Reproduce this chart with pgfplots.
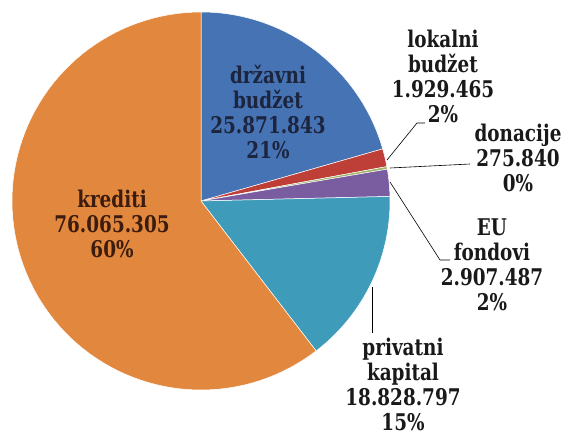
\documentclass[border=0pt]{standalone}
\usepackage{fontspec}
\setmainfont{DejaVu Serif}[FakeStretch=0.8]
\usepackage{pgfplots}
\pgfplotsset{compat=1.18}

\definecolor{cDrz}{RGB}{70,115,180}
\definecolor{cLok}{RGB}{190,62,56}
\definecolor{cDon}{RGB}{160,180,100}
\definecolor{cEU}{RGB}{122,92,160}
\definecolor{cPriv}{RGB}{62,155,185}
\definecolor{cKred}{RGB}{226,136,62}
\definecolor{txtBlue}{RGB}{28,36,62}
\definecolor{txtBrown}{RGB}{60,28,14}

% values in millions
\pgfmathsetmacro{\tot}{25.871843+1.929465+0.275840+2.907487+18.828797+76.065305}
\def\curang{90}
\newcommand\pieslice[2]{%
  \pgfmathsetmacro\sa{\curang}%
  \pgfmathsetmacro\sb{\curang-360*(#1/\tot)}%
  \edef\doslice{\noexpand\addplot[fill=#2, draw=white, line width=0.5pt,
    domain=\sb:\sa, samples=90]
    ({201+189*cos(x)},{201-189*sin(x)}) -- (axis cs:201,201) -- cycle;}%
  \doslice
  \xdef\curang{\sb}%
}

\begin{document}
\begin{tikzpicture}[lbl/.style={font=\rmfamily\bfseries\fontsize{23}{25}\selectfont, align=center, inner sep=0pt}]
\begin{axis}[
  width=567pt, height=436pt, scale only axis,
  xmin=0, xmax=567, ymin=0, ymax=436, y dir=reverse,
  hide axis, clip=false,
]
\pieslice{25.871843}{cDrz}
\pieslice{1.929465}{cLok}
\pieslice{0.275840}{cDon}
\pieslice{2.907487}{cEU}
\pieslice{18.828797}{cPriv}
\pieslice{76.065305}{cKred}

% leader lines
\draw[black, line width=0.6pt] (axis cs:387,160) -- (axis cs:417,123) -- (axis cs:425,123);
\draw[black, line width=0.6pt] (axis cs:390,168) -- (axis cs:470,164);
\draw[black, line width=0.6pt] (axis cs:390,182) -- (axis cs:440,260) -- (axis cs:450,260);
\draw[black, line width=0.6pt] (axis cs:372,287) -- (axis cs:372,333);

\node[lbl, text=txtBlue] at (axis cs:268,112) {državni\\budžet\\25.871.843\\21\%};
\node[lbl, text=txtBrown] at (axis cs:112,224) {krediti\\76.065.305\\60\%};
\node[lbl, text=black!90] at (axis cs:443,76) {lokalni\\budžet\\1.929.465\\2\%};
\node[lbl, text=black!90] at (axis cs:518,158) {donacije\\275.840\\0\%};
\node[lbl, text=black!90] at (axis cs:492,265) {EU\\fondovi\\2.907.487\\2\%};
\node[lbl, text=black!90] at (axis cs:403,384) {privatni\\kapital\\18.828.797\\15\%};
\end{axis}
\pgfresetboundingbox
\path (current axis.south west) rectangle (current axis.north east);
\end{tikzpicture}
\end{document}
